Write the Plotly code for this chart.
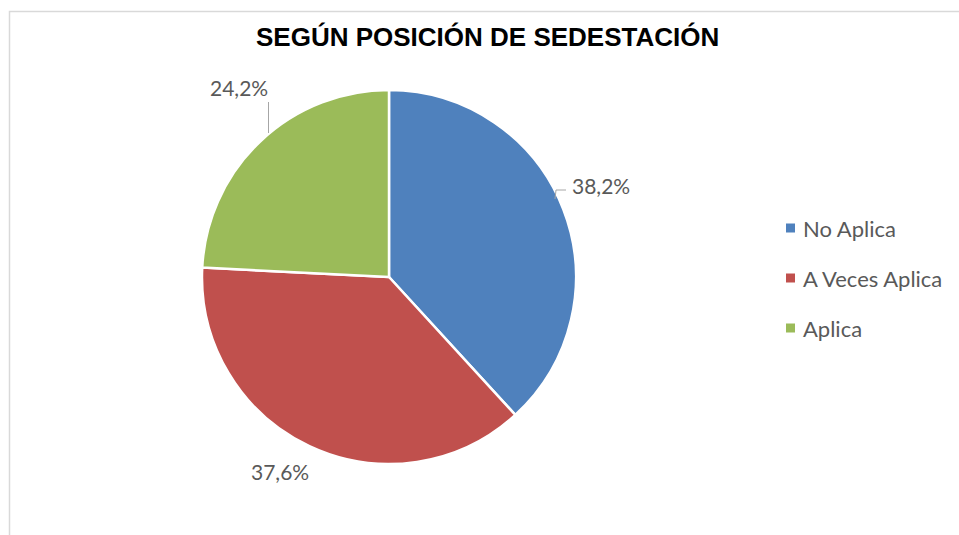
import plotly.graph_objects as go

# Data
categories = ['No Aplica', 'A Veces Aplica', 'Aplica']
values = [38.2, 37.6, 24.2]
colors = ['#4F81BD', '#C0504D', '#9BBB59']
title = 'SEGÚN POSICIÓN DE SEDESTACIÓN'

W, H = 959, 535
TXT = '#595959'
FONT = 'Lato'


def px(x):
    return x / W


def py(y):
    return 1 - y / H


def pct(v):
    return f'{v:.1f}%'.replace('.', ',')


# pie placement (centre and radius in pixels)
cx, cy, r = 389, 277, 187

fig = go.Figure()
fig.add_trace(go.Pie(
    labels=categories,
    values=values,
    sort=False,
    direction='clockwise',
    rotation=0,
    marker=dict(colors=colors, line=dict(color='white', width=2.5)),
    textinfo='none',
    hoverinfo='label+percent',
    showlegend=False,
    domain=dict(x=[px(cx - r), px(cx + r)], y=[py(cy + r), py(cy - r)]),
))

# data labels (centres of the text boxes)
label_pos = [(601, 186), (280, 471), (239, 88)]
for v, (lx, ly) in zip(values, label_pos):
    fig.add_annotation(x=px(lx), y=py(ly), xref='paper', yref='paper',
                       xanchor='center', yanchor='middle',
                       text=pct(v), showarrow=False,
                       font=dict(family=FONT, size=21, color=TXT))

# leader lines
shapes = [
    dict(type='path', xref='paper', yref='paper',
         path=f'M {px(555)},{py(199)} L {px(556)},{py(190)} L {px(566)},{py(190)}',
         line=dict(color='#A6A6A6', width=1)),
    dict(type='line', xref='paper', yref='paper',
         x0=px(268.5), x1=px(268.5), y0=py(102), y1=py(133),
         line=dict(color='#A6A6A6', width=1)),
    # chart border
    dict(type='rect', xref='paper', yref='paper',
         x0=px(9.5), x1=px(W + 5), y0=py(11.5), y1=py(H + 5),
         line=dict(color='#D9D9D9', width=1.5)),
]

# legend drawn by hand to get Excel-like spacing
for i, (cat, col) in enumerate(zip(categories, colors)):
    yc = 228 + 50 * i
    shapes.append(dict(type='rect', xref='paper', yref='paper',
                       x0=px(786), x1=px(795), y0=py(yc + 4.5), y1=py(yc - 4.5),
                       fillcolor=col, line=dict(width=0)))
    fig.add_annotation(x=px(801), y=py(yc), xref='paper', yref='paper',
                       text=cat, showarrow=False, xanchor='left', yanchor='middle',
                       font=dict(family=FONT, size=22, color=TXT))

fig.add_annotation(x=px(487), y=py(37), xref='paper', yref='paper',
                   xanchor='center', yanchor='middle',
                   text=f'<b>{title}</b>', showarrow=False,
                   font=dict(family='Liberation Sans, Arial', size=26, color='black'))

fig.update_layout(
    width=W, height=H,
    margin=dict(l=0, r=0, t=0, b=0),
    paper_bgcolor='white',
    plot_bgcolor='white',
    shapes=shapes,
)

# drop the browser's default body margin so the figure sits at the page corner
fig.write_html('out.html', config={'displayModeBar': False},
               post_script="document.body.style.margin='0';")
